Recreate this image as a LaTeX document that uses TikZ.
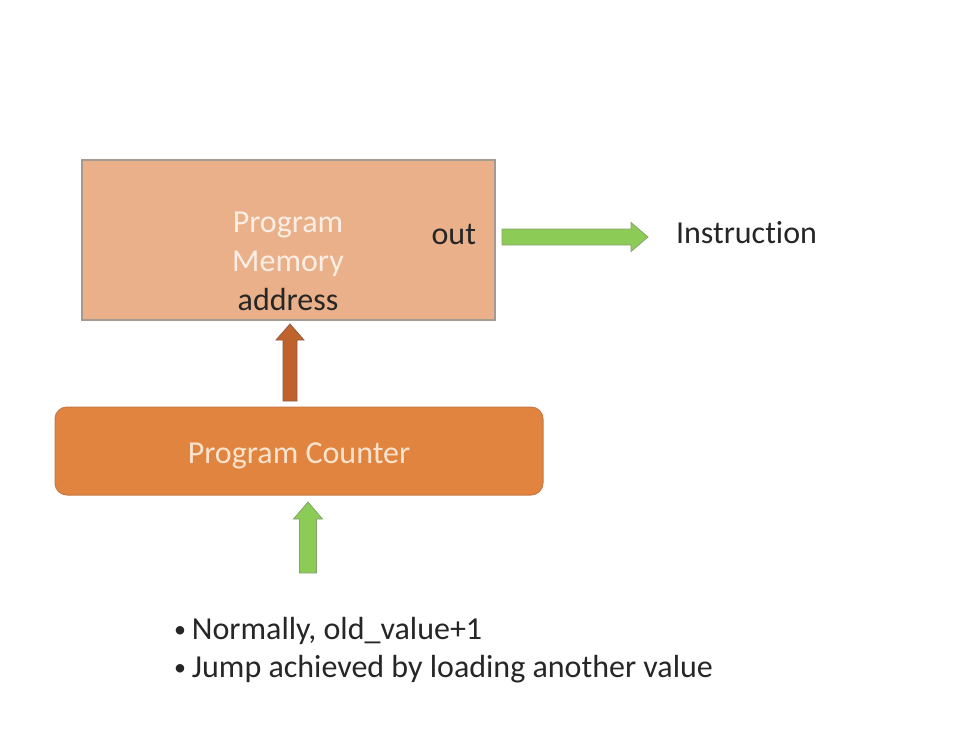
\documentclass[tikz,border=0pt]{standalone}
\usepackage{fontspec}
\setmainfont{Carlito}[Ligatures=CommonOff]
\usetikzlibrary{calc}
\definecolor{memfill}{HTML}{EAB08A}
\definecolor{memline}{HTML}{A39A92}
\definecolor{pcfill}{HTML}{E0843F}
\definecolor{pcline}{HTML}{C97845}
\definecolor{grfill}{HTML}{8DCB57}
\definecolor{grline}{HTML}{82A570}
\definecolor{brfill}{HTML}{C0622B}
\definecolor{brline}{HTML}{905E44}
\definecolor{txtdark}{HTML}{262626}
\definecolor{memtxt}{HTML}{FCEEE4}
\definecolor{pctxt}{HTML}{FBE3CE}
\newcommand\mybullet{{\fontsize{24}{24}\selectfont\raisebox{1.5pt}{•}}\hspace{6pt}}
\begin{document}
\begin{tikzpicture}[x=1pt,y=-1pt,
  every node/.style={inner sep=0pt, outer sep=0pt},
  bigfont/.style={font=\fontsize{32}{39}\selectfont},
  membox/.style={draw=memline, line width=1.2pt, fill=memfill, minimum width=413pt, minimum height=160pt},
  pcbox/.style={draw=pcline, line width=1pt, fill=pcfill, rounded corners=12pt, minimum width=488pt, minimum height=88pt},
  memlabel/.style={bigfont, text=memtxt, anchor=base},
  darklabel/.style={bigfont, text=txtdark},
  pclabel/.style={bigfont, text=pctxt, anchor=base},
  greenarrow/.style={fill=grfill, draw=grline, line width=0.8pt, line join=miter},
  brownarrow/.style={fill=brfill, draw=brline, line width=0.8pt, line join=miter}
]
\useasboundingbox[fill=white] (0,0) rectangle (964,732);

% Program memory
\node[membox] (mem) at (288.5,240) {};
\node[memlabel] (pm1) at (288,232) {Program};
\node[memlabel] (pm2) at (288,271) {Memory};
\node[darklabel, anchor=base] (addr) at (288,310) {address};
\node[darklabel, anchor=base east] (out) at (476,244) {out};

% Instruction
\node[darklabel, anchor=base west] (instr) at (676,243) {Instruction};

% Program counter
\node[pcbox] (pc) at (299,451) {};
\node[pclabel] (pclab) at (299,463) {Program Counter};

% Arrow memory out -> Instruction
\coordinate (o1) at ([xshift=7pt,yshift=3pt]mem.east);
\coordinate (t1) at ([xshift=-28pt]instr.base west |- o1);
\filldraw[greenarrow] ($(o1)+(0,-8)$) -- ($(t1)+(-17,-8)$) -- ($(t1)+(-17,-14.5)$) -- (t1)
  -- ($(t1)+(-17,14.5)$) -- ($(t1)+(-17,8)$) -- ($(o1)+(0,8)$) -- cycle;

% Arrow PC -> memory address
\coordinate (bt) at ([xshift=1.5pt,yshift=-4pt]mem.south);
\coordinate (bb) at ([yshift=6pt]pc.north -| bt);
\filldraw[brownarrow] ($(bb)+(-7,0)$) -- ($(bt)+(-7,16)$) -- ($(bt)+(-14,16)$) -- (bt)
  -- ($(bt)+(14,16)$) -- ($(bt)+(7,16)$) -- ($(bb)+(7,0)$) -- cycle;

% Arrow into PC
\coordinate (gt) at ([xshift=9pt,yshift=-7pt]pc.south);
\coordinate (gb) at ([yshift=-71pt]gt);
\filldraw[greenarrow] ($(gb)+(-8.5,0)$) -- ($(gt)+(-8.5,17)$) -- ($(gt)+(-14.5,17)$) -- (gt)
  -- ($(gt)+(14.5,17)$) -- ($(gt)+(8.5,17)$) -- ($(gb)+(8.5,0)$) -- cycle;

% Bullets
\node[darklabel, anchor=base west] (b1) at (174,639) {\mybullet Normally, old\_value+1};
\node[darklabel, anchor=base west] (b2) at (174,677) {\mybullet Jump achieved by loading another value};
\end{tikzpicture}
\end{document}
